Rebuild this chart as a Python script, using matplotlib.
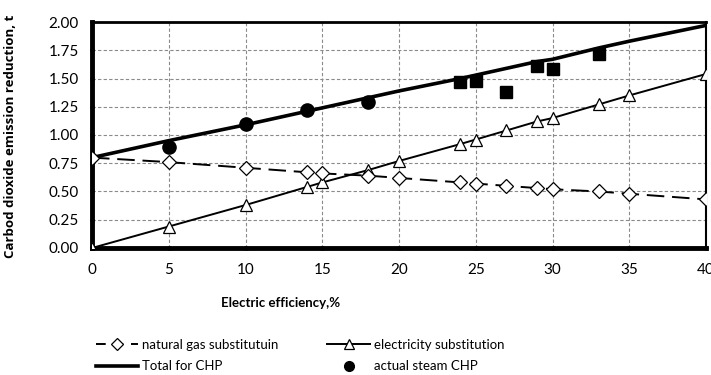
import matplotlib.pyplot as plt
from matplotlib.lines import Line2D

plt.rcParams["font.family"] = ["Lato", "DejaVu Sans"]

efficiency = [0, 5, 10, 14, 15, 18, 20, 24, 25, 27, 29, 30, 33, 35, 40]
gas_subst = [0.80, 0.76, 0.71, 0.67, 0.66, 0.64, 0.62, 0.58, 0.57, 0.55, 0.53, 0.52, 0.50, 0.48, 0.43]
elec_subst = [0.00, 0.19, 0.38, 0.54, 0.58, 0.69, 0.77, 0.92, 0.96, 1.04, 1.12, 1.15, 1.27, 1.35, 1.54]
total_chp = [0.80, 0.95, 1.09, 1.21, 1.24, 1.33, 1.39, 1.50, 1.53, 1.59, 1.65, 1.67, 1.77, 1.83, 1.97]

steam_x = [5, 10, 14, 18]
steam_y = [0.89, 1.10, 1.22, 1.29]
other_x = [24, 25, 27, 29, 30, 33]
other_y = [1.47, 1.48, 1.38, 1.61, 1.58, 1.72]

fig = plt.figure(figsize=(7.11, 3.75), dpi=100)
ax = fig.add_axes([0.1294, 0.3387, 0.8636, 0.6026])

ax.plot(efficiency, total_chp, color="black", linewidth=2.6, zorder=3)
ax.plot(efficiency, elec_subst, color="black", linewidth=1.4, marker="^",
        markersize=8, markerfacecolor="white", markeredgecolor="black",
        markeredgewidth=0.9, zorder=4)
ax.plot(efficiency, gas_subst, color="black", linewidth=1.4, dashes=(9, 4),
        marker="D", markersize=7, markerfacecolor="white",
        markeredgecolor="black", markeredgewidth=0.9, zorder=4)
ax.plot(steam_x, steam_y, linestyle="none", marker="o", markersize=9.5,
        color="black", zorder=5)
ax.plot(other_x, other_y, linestyle="none", marker="s", markersize=8,
        color="black", zorder=5)

ax.set_xlim(0, 40)
ax.set_ylim(0, 2)
ax.set_xticks(range(0, 41, 5))
ax.set_yticks([0, 0.25, 0.5, 0.75, 1.0, 1.25, 1.5, 1.75, 2.0])
ax.set_yticklabels([f"{v:.2f}" for v in ax.get_yticks()])
ax.tick_params(axis="both", labelsize=11, length=3, width=2.5,
               direction="inout", color="black")
ax.tick_params(axis="x", pad=9)
ax.tick_params(axis="y", pad=8)
ax.grid(True, color="#8a8a8a", linestyle=(0, (3, 2)), linewidth=0.8)
ax.set_axisbelow(True)

ax.spines["left"].set_linewidth(3.5)
ax.spines["bottom"].set_linewidth(3.5)
ax.spines["top"].set_linewidth(2)
ax.spines["right"].set_linewidth(1.5)

fig.text(0.015, 0.635, "Carbod dioxide emission reduction, t", rotation=90,
         ha="center", va="center", fontsize=9.5, fontweight="bold",
         family=["Open Sans", "DejaVu Sans"])
fig.text(0.395, 0.192, "Electric efficiency,%", ha="center", va="center",
         fontsize=9.5, fontweight="bold")

gas_h = Line2D([], [], color="black", linewidth=1.4, dashes=(5, 4), marker="D",
               markersize=6, markerfacecolor="white", markeredgewidth=0.9)
elec_h = Line2D([], [], color="black", linewidth=1.4, marker="^", markersize=7,
                markerfacecolor="white", markeredgewidth=0.9)
total_h = Line2D([], [], color="black", linewidth=2.6)
steam_h = Line2D([], [], linestyle="none", marker="o", markersize=7, color="black")

# legend fills column-wise, so order gives rows: gas/elec, total/steam
fig.legend([gas_h, total_h, elec_h, steam_h],
           ["natural gas substitutuin", "Total for CHP",
            "electricity substitution", "actual steam CHP"],
           loc="center", bbox_to_anchor=(0.422, 0.052),
           ncol=2, frameon=False, fontsize=9.5, handlelength=3.2,
           handletextpad=0.3, columnspacing=3.7, labelspacing=0.75)

fig.savefig("out.png", dpi=100)
